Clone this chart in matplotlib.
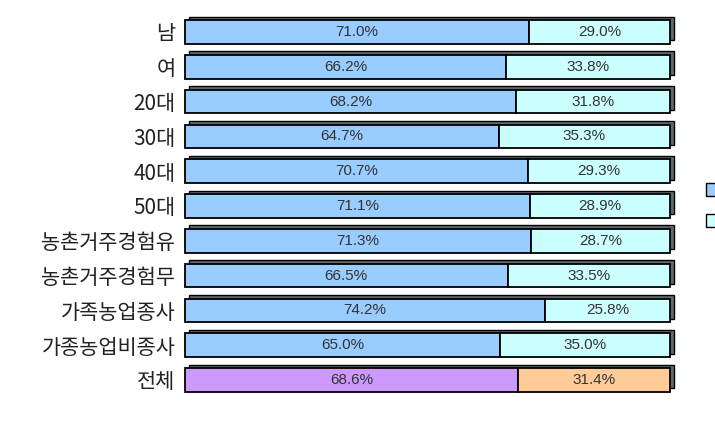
import matplotlib.pyplot as plt
import matplotlib.transforms as mtransforms

plt.rcParams['font.family'] = ['Noto Sans CJK KR', 'DejaVu Sans']

groups = ['남', '여', '20대', '30대', '40대', '50대', '농촌거주경험유', '농촌거주경험무',
          '가족농업종사', '가종농업비종사', '전체']
yes_vals = [71.0, 66.2, 68.2, 64.7, 70.7, 71.1, 71.3, 66.5, 74.2, 65.0, 68.6]
no_vals = [29.0, 33.8, 31.8, 35.3, 29.3, 28.9, 28.7, 33.5, 25.8, 35.0, 31.4]
legend_labels = ['있다', '없다']

c_yes = ['#99ccff'] * 10 + ['#cc99ff']
c_no = ['#ccffff'] * 10 + ['#ffcc99']

fig = plt.figure(figsize=(7.15, 4.21), dpi=100)
ax = fig.add_axes([185 / 715, 1 - 397.4 / 421, 485 / 715, 382.8 / 421])

h = 0.68
y = list(range(len(groups)))
shift = mtransforms.ScaledTranslation(0.035, 0.035, fig.dpi_scale_trans)

# depth (shadow bar behind, shifted up-right)
ax.barh(y, [a + b for a, b in zip(yes_vals, no_vals)], height=h, color='#5f6a70',
        edgecolor='black', linewidth=1, transform=ax.transData + shift, zorder=1,
        clip_on=False)
ax.barh(y, yes_vals, height=h, color=c_yes, edgecolor='black', linewidth=1.3, zorder=2,
        clip_on=False)
ax.barh(y, no_vals, left=yes_vals, height=h, color=c_no, edgecolor='black',
        linewidth=1.3, zorder=2, clip_on=False)

for i in y:
    ax.text(yes_vals[i] / 2, i, f'{yes_vals[i]:.1f}%', ha='center', va='center',
            fontsize=11, family='Liberation Sans', color='#333333', zorder=3)
    ax.text(yes_vals[i] + no_vals[i] / 2, i, f'{no_vals[i]:.1f}%', ha='center',
            va='center', fontsize=11, family='Liberation Sans', color='#333333', zorder=3)

ax.set_xlim(0, 100)
ax.set_ylim(len(groups) - 0.5, -0.5)
ax.set_yticks(y)
ax.set_yticklabels(groups, fontsize=15, color='#222222', fontweight='light')
ax.tick_params(axis='y', length=0, pad=7)
ax.set_xticks([])
for s in ax.spines.values():
    s.set_visible(False)

handles = [plt.Rectangle((0, 0), 1, 1, facecolor='#99ccff', edgecolor='black'),
           plt.Rectangle((0, 0), 1, 1, facecolor='#ccffff', edgecolor='black')]
fig.legend(handles, legend_labels, loc='upper left', bbox_to_anchor=(706 / 715, 1 - 182 / 421),
           frameon=False, fontsize=11, handlelength=0.9, handleheight=0.9, labelspacing=0.9,
           handletextpad=0.8, borderaxespad=0, borderpad=0)

fig.savefig('out.png', dpi=100)
